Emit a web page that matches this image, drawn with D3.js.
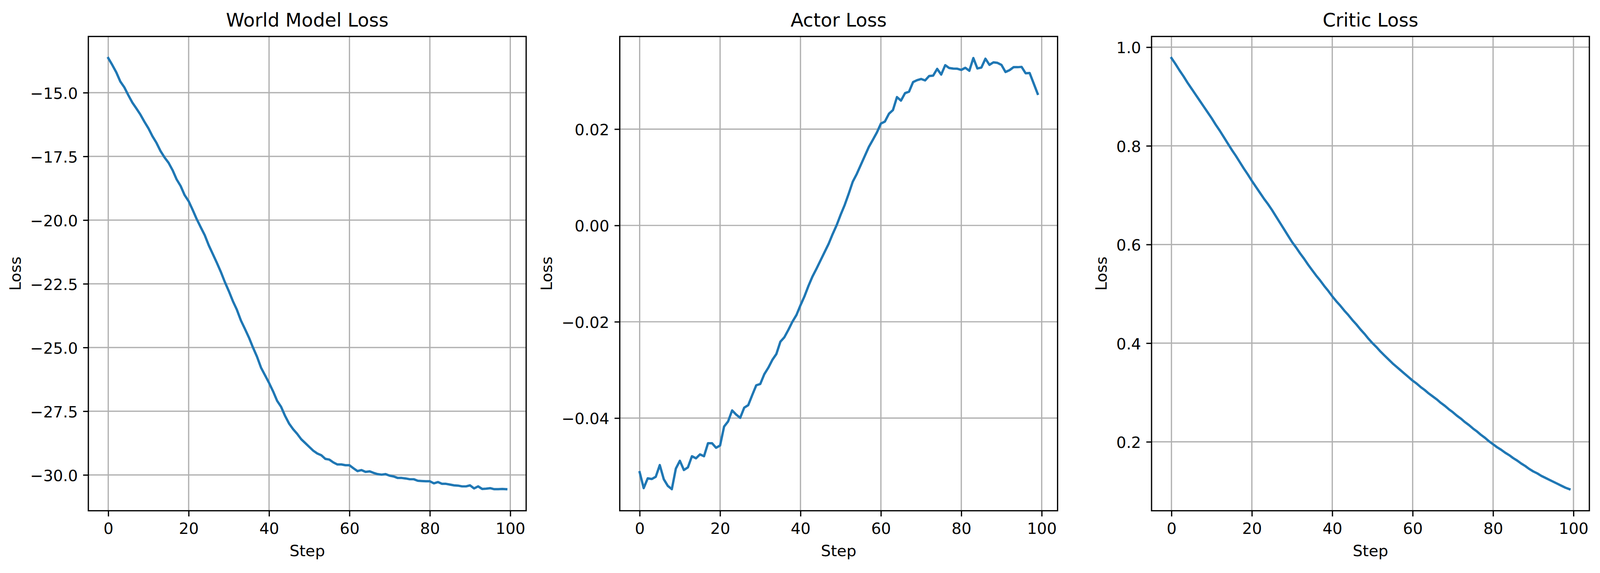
<!DOCTYPE html>
<html>
<head>
<meta charset="utf-8">
<script src="https://cdn.jsdelivr.net/npm/d3@7"></script>
<style>
  html, body { margin: 0; padding: 0; background: #ffffff; overflow: hidden; width: 100%; height: 100%; }
  svg { display: block; position: absolute; left: 0; top: 0; }
</style>
</head>
<body>
<svg id="chart"></svg>
<script>
// ---------------- DATA ----------------
const steps = d3.range(0, 100);

const worldModelLoss = [
  -13.64, -13.91, -14.20, -14.56, -14.79, -15.10, -15.39, -15.62, -15.86, -16.14,
  -16.40, -16.71, -16.97, -17.29, -17.54, -17.75, -18.04, -18.40, -18.66, -19.02,
  -19.26, -19.60, -19.96, -20.28, -20.59, -20.99, -21.33, -21.67, -22.03, -22.43,
  -22.79, -23.18, -23.52, -23.94, -24.27, -24.61, -25.00, -25.36, -25.79, -26.09,
  -26.39, -26.72, -27.09, -27.33, -27.69, -27.99, -28.21, -28.39, -28.60, -28.75,
  -28.90, -29.05, -29.16, -29.23, -29.37, -29.40, -29.51, -29.59, -29.59, -29.62,
  -29.62, -29.74, -29.85, -29.81, -29.88, -29.86, -29.92, -29.97, -29.99, -29.97,
  -30.03, -30.06, -30.12, -30.12, -30.14, -30.17, -30.17, -30.23, -30.24, -30.25,
  -30.25, -30.33, -30.28, -30.35, -30.35, -30.38, -30.41, -30.42, -30.45, -30.45,
  -30.41, -30.53, -30.45, -30.55, -30.54, -30.52, -30.56, -30.56, -30.55, -30.56
];

const actorLoss = [
  -0.05124, -0.05454, -0.05251, -0.05265, -0.05219, -0.04976, -0.05270, -0.05408, -0.05476, -0.05049,
  -0.04886, -0.05078, -0.05024, -0.04792, -0.04835, -0.04754, -0.04792, -0.04522, -0.04522, -0.04616,
  -0.04570, -0.04176, -0.04068, -0.03841, -0.03927, -0.03995, -0.03784, -0.03732, -0.03522, -0.03319,
  -0.03292, -0.03089, -0.02954, -0.02792, -0.02670, -0.02414, -0.02320, -0.02165, -0.01998, -0.01859,
  -0.01657, -0.01470, -0.01253, -0.01057, -0.00895, -0.00724, -0.00553, -0.00382, -0.00180, 0.00006,
  0.00224, 0.00426, 0.00659, 0.00908, 0.01069, 0.01256, 0.01442, 0.01629, 0.01778, 0.01930,
  0.02115, 0.02157, 0.02319, 0.02395, 0.02665, 0.02592, 0.02746, 0.02778, 0.02976, 0.03016,
  0.03041, 0.03011, 0.03103, 0.03111, 0.03251, 0.03132, 0.03327, 0.03268, 0.03257, 0.03254,
  0.03230, 0.03273, 0.03211, 0.03476, 0.03259, 0.03278, 0.03462, 0.03335, 0.03386, 0.03376,
  0.03332, 0.03186, 0.03224, 0.03286, 0.03286, 0.03292, 0.03159, 0.03165, 0.02949, 0.02732
];

const criticLoss = [
  0.978, 0.966, 0.953, 0.941, 0.928, 0.916, 0.904, 0.892, 0.880, 0.868,
  0.856, 0.843, 0.831, 0.818, 0.805, 0.792, 0.780, 0.767, 0.754, 0.742,
  0.729, 0.717, 0.705, 0.693, 0.682, 0.670, 0.657, 0.644, 0.631, 0.618,
  0.605, 0.594, 0.582, 0.571, 0.559, 0.548, 0.537, 0.527, 0.516, 0.506,
  0.495, 0.485, 0.476, 0.466, 0.457, 0.447, 0.438, 0.428, 0.419, 0.409,
  0.400, 0.392, 0.383, 0.375, 0.367, 0.359, 0.352, 0.345, 0.338, 0.331,
  0.324, 0.318, 0.311, 0.305, 0.298, 0.292, 0.286, 0.279, 0.273, 0.266,
  0.260, 0.253, 0.247, 0.240, 0.234, 0.227, 0.221, 0.214, 0.208, 0.201,
  0.195, 0.189, 0.184, 0.178, 0.173, 0.167, 0.162, 0.156, 0.151, 0.145,
  0.140, 0.136, 0.131, 0.127, 0.123, 0.119, 0.115, 0.111, 0.107, 0.104
];

const panelTitles = ["World Model Loss", "Actor Loss", "Critic Loss"];
const xAxisLabel = "Step";
const yAxisLabel = "Loss";
const xTickValues = [0, 20, 40, 60, 80, 100];
const worldModelTicks = [-30, -27.5, -25, -22.5, -20, -17.5, -15];
const actorTicks = [-0.04, -0.02, 0.00, 0.02];
const criticTicks = [0.2, 0.4, 0.6, 0.8, 1.0];
const yTickFormats = [".1f", ".2f", ".1f"];

// ---------------- LAYOUT / STYLE ----------------
// Layout is designed on a 4468 x 1466 canvas and mapped onto the real viewport.
const BASE_W = 4468, BASE_H = 1466;
const VW = window.innerWidth || BASE_W;
const VH = window.innerHeight || BASE_H;
const sx = VW / BASE_W;
const sy = VH / BASE_H;
const sf = Math.sqrt(sx * sy);
const X = v => v * sx;
const Y = v => v * sy;

const FONT = "'DejaVu Sans', 'Liberation Sans', sans-serif";
const PT = 300 / 72;
const TICK_FS = 10 * PT * sf;
const TITLE_FS = 12 * PT * sf;
const TICK_LEN_X = 3.5 * PT * sy, TICK_PAD_X = 3.5 * PT * sy;
const TICK_LEN_Y = 3.5 * PT * sx, TICK_PAD_Y = 3.5 * PT * sx;
const LW_AX = 0.8 * PT * sf;
const LW_LINE = 1.5 * PT * sf;
const LABEL_PAD_X = 4 * PT * sy;
const LABEL_PAD_Y = 4 * PT * sx;
const TITLE_PAD = 6 * PT * sy;
const LINE_COLOR = "#1f77b4";
const GRID_COLOR = "#b0b0b0";

const panelLefts = [246.7, 1730.7, 3215.7];
const panelWidth = 1222.6;
const panelTop = Y(93.3);
const panelBottom = Y(1306.7);

const series = [worldModelLoss, actorLoss, criticLoss];
const yTicksAll = [worldModelTicks, actorTicks, criticTicks];

const svg = d3.select("#chart").attr("width", VW).attr("height", VH);
svg.append("rect").attr("width", VW).attr("height", VH).attr("fill", "#ffffff");

function padDomain(ext) {
  const m = 0.05 * (ext[1] - ext[0]);
  return [ext[0] - m, ext[1] + m];
}

series.forEach((vals, i) => {
  const left = X(panelLefts[i]);
  const right = X(panelLefts[i] + panelWidth);
  const g = svg.append("g");

  const x = d3.scaleLinear()
    .domain(padDomain(d3.extent(steps)))
    .range([left, right]);
  const y = d3.scaleLinear()
    .domain(padDomain(d3.extent(vals)))
    .range([panelBottom, panelTop]);

  // grid
  const grid = g.append("g");
  grid.selectAll("line.gx").data(xTickValues).join("line")
    .attr("x1", d => x(d)).attr("x2", d => x(d))
    .attr("y1", panelTop).attr("y2", panelBottom)
    .attr("stroke", GRID_COLOR).attr("stroke-width", LW_AX);
  grid.selectAll("line.gy").data(yTicksAll[i]).join("line")
    .attr("x1", left).attr("x2", right)
    .attr("y1", d => y(d)).attr("y2", d => y(d))
    .attr("stroke", GRID_COLOR).attr("stroke-width", LW_AX);

  // data line
  const line = d3.line().x((d, k) => x(steps[k])).y(d => y(d));
  g.append("path").datum(vals)
    .attr("d", line)
    .attr("fill", "none")
    .attr("stroke", LINE_COLOR)
    .attr("stroke-width", LW_LINE)
    .attr("stroke-linejoin", "round")
    .attr("stroke-linecap", "square");

  // x axis
  const xAxis = d3.axisBottom(x).tickValues(xTickValues)
    .tickSize(TICK_LEN_X).tickPadding(TICK_PAD_X).tickFormat(d3.format("d"));
  const gx = g.append("g").attr("transform", `translate(0,${panelBottom})`).call(xAxis);
  gx.attr("font-family", FONT).attr("font-size", TICK_FS);
  gx.select(".domain").remove();
  gx.selectAll(".tick line").attr("stroke", "#000").attr("stroke-width", LW_AX);
  gx.selectAll(".tick text").attr("fill", "#000").attr("dy", "0.76em");

  // y axis
  const yAxis = d3.axisLeft(y).tickValues(yTicksAll[i])
    .tickSize(TICK_LEN_Y).tickPadding(TICK_PAD_Y).tickFormat(d3.format(yTickFormats[i]));
  const gy = g.append("g").attr("transform", `translate(${left},0)`).call(yAxis);
  gy.attr("font-family", FONT).attr("font-size", TICK_FS);
  gy.select(".domain").remove();
  gy.selectAll(".tick line").attr("stroke", "#000").attr("stroke-width", LW_AX);
  gy.selectAll(".tick text").attr("fill", "#000").attr("dy", "0.38em");

  let maxW = 0;
  gy.selectAll(".tick text").each(function () {
    maxW = Math.max(maxW, this.getComputedTextLength());
  });

  // spines
  g.append("rect")
    .attr("x", left).attr("y", panelTop)
    .attr("width", right - left).attr("height", panelBottom - panelTop)
    .attr("fill", "none").attr("stroke", "#000").attr("stroke-width", LW_AX)
    .attr("stroke-linejoin", "miter");

  // title
  g.append("text")
    .attr("x", (left + right) / 2).attr("y", panelTop - TITLE_PAD)
    .attr("text-anchor", "middle")
    .attr("font-family", FONT).attr("font-size", TITLE_FS).attr("fill", "#000")
    .text(panelTitles[i]);

  // x label
  const xTickBottom = panelBottom + TICK_LEN_X + TICK_PAD_X + 0.996 * TICK_FS;
  g.append("text")
    .attr("x", (left + right) / 2)
    .attr("y", xTickBottom + LABEL_PAD_X + 0.76 * TICK_FS)
    .attr("text-anchor", "middle")
    .attr("font-family", FONT).attr("font-size", TICK_FS).attr("fill", "#000")
    .text(xAxisLabel);

  // y label
  const yLabelRight = left - TICK_LEN_Y - TICK_PAD_Y - maxW - LABEL_PAD_Y;
  const yBase = yLabelRight - 0.236 * TICK_FS;
  const yMid = (panelTop + panelBottom) / 2;
  g.append("text")
    .attr("transform", `translate(${yBase},${yMid}) rotate(-90)`)
    .attr("text-anchor", "middle")
    .attr("font-family", FONT).attr("font-size", TICK_FS).attr("fill", "#000")
    .text(yAxisLabel);
});
</script>
</body>
</html>
